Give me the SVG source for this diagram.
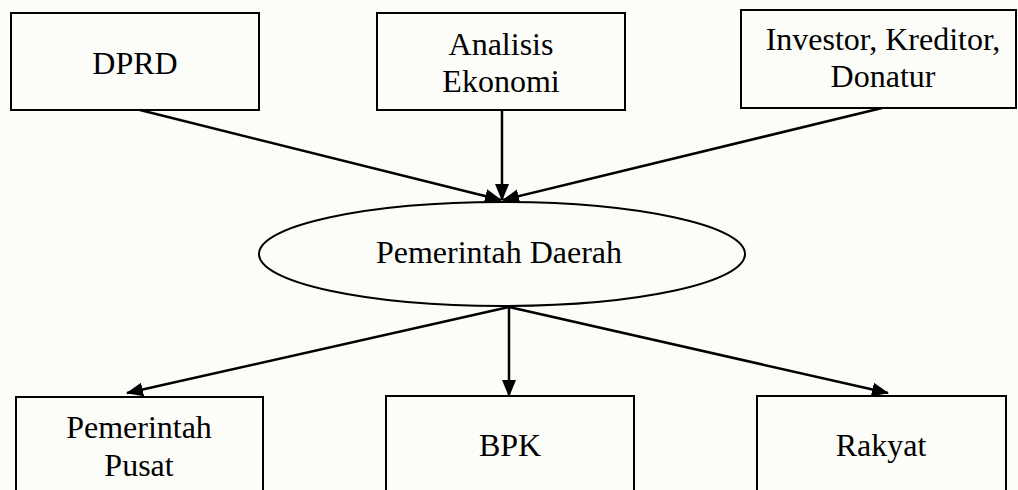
<svg xmlns="http://www.w3.org/2000/svg" width="1018" height="490" viewBox="0 0 1018 490">
<style>
.box{fill:none;stroke:#000;stroke-width:2}
.t{font-family:"Liberation Serif","Times New Roman",serif;font-size:32px;fill:#000;text-anchor:middle}
.c{stroke:#000;stroke-width:2.5;fill:none;marker-end:url(#ah)}
</style>
<defs>
<marker id="ah" markerUnits="userSpaceOnUse" markerWidth="17" markerHeight="15" refX="16" refY="7" orient="auto" viewBox="0 0 17 14">
<path d="M0,0 L17,7 L0,14 z" fill="#000"/>
</marker>
</defs>
<rect x="0" y="0" width="1018" height="490" fill="#fcfdf8"/>
<g id="connectors">
<line class="c" x1="140" y1="110" x2="501" y2="200"/>
<line class="c" x1="502" y1="110" x2="502" y2="200"/>
<line class="c" x1="882" y1="108" x2="503" y2="200"/>
<line class="c" x1="509" y1="307" x2="127" y2="393"/>
<line class="c" x1="509" y1="307" x2="509" y2="396"/>
<line class="c" x1="509" y1="307" x2="888" y2="393"/>
</g>
<g id="dprd">
<rect class="box" x="11" y="13" width="248" height="97"/>
<text class="t" x="135" y="74">DPRD</text>
</g>
<g id="analisis">
<rect class="box" x="377" y="13" width="248" height="97"/>
<text class="t" x="501" y="55">Analisis</text>
<text class="t" x="501" y="92">Ekonomi</text>
</g>
<g id="investor">
<rect class="box" x="741" y="10" width="275" height="98"/>
<text class="t" x="883" y="50">Investor, Kreditor,</text>
<text class="t" x="883" y="87">Donatur</text>
</g>
<g id="pemda">
<ellipse class="box" cx="502" cy="254" rx="243" ry="52"/>
<text class="t" x="499" y="263">Pemerintah Daerah</text>
</g>
<g id="pusat">
<rect class="box" x="16" y="397" width="247" height="110"/>
<text class="t" x="139" y="438">Pemerintah</text>
<text class="t" x="139" y="476">Pusat</text>
</g>
<g id="bpk">
<rect class="box" x="386" y="396" width="248" height="110"/>
<text class="t" x="510" y="456">BPK</text>
</g>
<g id="rakyat">
<rect class="box" x="757" y="396" width="249" height="110"/>
<text class="t" x="881" y="456">Rakyat</text>
</g>
</svg>
